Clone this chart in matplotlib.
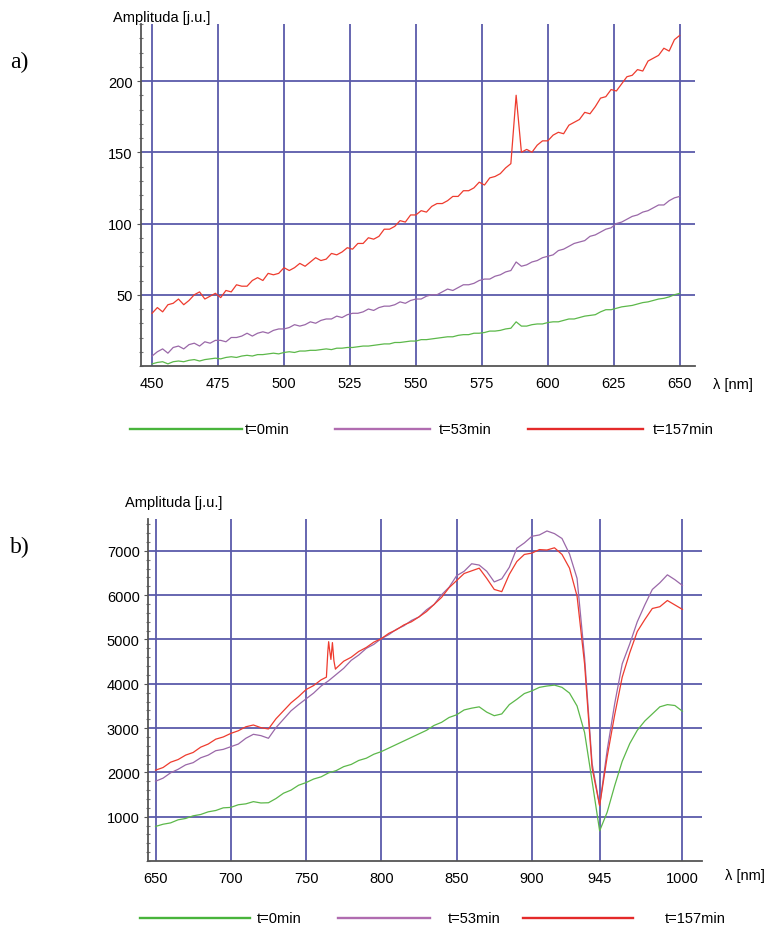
import numpy as np
import matplotlib.pyplot as plt
from matplotlib.lines import Line2D
from matplotlib.ticker import MultipleLocator

plt.rcParams['font.family'] = ['Liberation Sans', 'DejaVu Sans']

# ---- panel a: 450-650 nm, sampled every 2 nm ----
wl_a = np.arange(450, 651, 2)

red_a = [37, 41, 38, 43, 44, 47, 43, 46, 50, 52, 47, 49, 51, 48, 53, 52, 57, 56, 56, 60,
         62, 60, 65, 64, 65,
         69, 67, 69, 72, 70, 73, 76, 74, 75, 79, 78, 80, 83, 82, 86, 86, 90, 89, 91, 96,
         96, 98, 102, 101, 106,
         106, 109, 108, 112, 114, 114, 116, 119, 119, 123, 123, 125, 129, 127, 132, 133, 135, 139, 142, 190,
         150, 152, 150, 155, 158,
         158, 162, 164, 163, 169, 171, 173, 178, 177, 182, 188, 189, 194, 193, 198, 203, 204, 208, 207, 214,
         216, 218, 223, 221, 229,
         232]

purple_a = [7, 10, 12, 9, 13, 14, 12, 15, 16, 14, 17, 16, 18, 18, 17, 20, 20, 21, 23, 21,
            23, 24, 23, 25, 26,
            26, 27, 29, 28, 29, 31, 30, 32, 33, 33, 35, 34, 36, 37, 37, 38, 40, 39, 41, 42,
            42, 43, 45, 44, 46,
            47, 47, 49, 50, 50, 52, 54, 53, 55, 57, 57, 58, 60, 61, 61, 63, 64, 66, 67, 73,
            70, 71, 73, 74, 76,
            77, 78, 81, 82, 84, 86, 87, 88, 91, 92, 94, 96, 97, 100, 101, 103, 105, 106, 108, 109,
            111, 113, 113, 116, 118,
            119]

green_a = [1.5, 2.5, 3, 1.5, 3, 3.5, 3, 4, 4.5, 3.5, 4.5, 5, 5.5, 5, 6, 6.5, 6, 7, 7.5, 7,
           8, 8, 8.5, 9, 8.5,
           9.5, 10, 9.5, 10.5, 10.5, 11, 11, 11.5, 12, 11.5, 12.5, 12.5, 13, 13, 13.5, 14, 14, 14.5, 15, 15.5,
           15.5, 16.5, 16.5, 17, 17.5,
           17.5, 18.5, 18.5, 19, 19.5, 20, 20.5, 20.5, 21.5, 22, 22, 23, 23, 23.5, 24.5, 24.5, 25, 26, 26.5, 31,
           28, 28, 29, 29.5, 29.5,
           30.5, 31, 31, 32, 33, 33, 34, 35, 35.5, 36, 38, 39.5, 39.5, 40.5, 41.5, 42, 42.5, 43.5, 44.5, 45,
           46, 47, 47.5, 48.5, 50,
           51]

ticks_a = [450, 475, 500, 525, 550, 575, 600, 625, 650]
yticks_a = [50, 100, 150, 200]

# ---- panel b: 650-1000 nm, sampled every 5 nm ----
wl_b = np.arange(650, 1001, 5)

red_b = [2050, 2110, 2230, 2290, 2390, 2450, 2570, 2640, 2750, 2800,
         2880, 2940, 3030, 3070, 3010, 2980, 3210, 3390, 3570, 3710,
         3870, 3960, 4090, 4950, 4350, 4510, 4600, 4730, 4820, 4940,
         5020, 5140, 5220, 5330, 5400, 5510, 5630, 5790, 5950, 6170,
         6330, 6490, 6550, 6610, 6380, 6130, 6080, 6470, 6760, 6920,
         6950, 7030, 7020, 7070, 6920, 6610, 5980, 4450, 2100, 1250,
         2350, 3300, 4150, 4700, 5180, 5450, 5700, 5740, 5880, 5780,
         5680]

# sodium-line spike on the t=157min curve
spike_wl = [763.5, 764.5, 765.5, 766.5, 767.5, 768.5, 769.5]
spike_red = [4150, 4750, 4800, 4550, 4930, 4520, 4330]

purple_b = [1800, 1870, 1990, 2070, 2170, 2220, 2330, 2390, 2490, 2520,
            2580, 2640, 2770, 2860, 2830, 2770, 3010, 3200, 3390, 3530,
            3660, 3790, 3950, 4070, 4210, 4350, 4530, 4650, 4800, 4890,
            5020, 5110, 5230, 5310, 5430, 5510, 5670, 5790, 6010, 6180,
            6440, 6540, 6710, 6680, 6540, 6300, 6370, 6630, 7060, 7180,
            7330, 7360, 7450, 7390, 7280, 6930, 6380, 4600, 2200, 1250,
            2500, 3550, 4450, 4900, 5400, 5780, 6130, 6280, 6460, 6350,
            6220]

green_b = [780, 830, 860, 930, 960, 1020, 1050, 1110, 1140, 1200,
           1210, 1270, 1290, 1340, 1310, 1315, 1410, 1530, 1600, 1710,
           1770, 1850, 1900, 1990, 2040, 2130, 2180, 2270, 2320, 2410,
           2470, 2550, 2630, 2710, 2790, 2870, 2950, 3060, 3130, 3240,
           3300, 3410, 3450, 3480, 3360, 3280, 3320, 3530, 3650, 3780,
           3840, 3920, 3950, 3970, 3920, 3790, 3500, 2900, 1800, 680,
           1100, 1700, 2250, 2650, 2950, 3160, 3320, 3480, 3530, 3510,
           3380]

ticks_b = [650, 700, 750, 800, 850, 900, 945, 1000]
yticks_b = [1000, 2000, 3000, 4000, 5000, 6000, 7000]

labels = ['t=0min', 't=53min', 't=157min']

GRID = '#5a5aaa'
AXIS = '#555555'
C_GREEN = '#5cb84a'
C_PURPLE = '#9a68a8'
C_RED = '#ee3b2e'
L_GREEN = '#48b43c'
L_PURPLE = '#b06cb0'
L_RED = '#e42a2a'

W, H = 766, 928


def fx(px):
    return px / W


def fy(py):
    return 1 - py / H


def style_axes(ax, xticks, yticks, minor):
    ax.set_xticks(xticks)
    ax.set_yticks(yticks)
    ax.yaxis.set_minor_locator(MultipleLocator(minor))
    ax.grid(True, which='major', color=GRID, lw=1.3)
    ax.set_axisbelow(True)
    for side in ['top', 'right']:
        ax.spines[side].set_visible(False)
    for side in ['left', 'bottom']:
        ax.spines[side].set_color(AXIS)
        ax.spines[side].set_linewidth(1.3)
    ax.tick_params(axis='x', length=0, pad=7, labelsize=10.5)
    ax.tick_params(axis='y', which='major', direction='out', length=3, pad=3,
                   color=AXIS, labelsize=10.5)
    ax.tick_params(axis='y', which='minor', direction='inout', length=3,
                   width=0.8, color='#777777')


def legend_row(y, segs, text_x):
    cols = [L_GREEN, L_PURPLE, L_RED]
    for (x0, x1), tx, c, lab in zip(segs, text_x, cols, labels):
        fig.add_artist(Line2D([fx(x0), fx(x1)], [fy(y), fy(y)], color=c, lw=1.7))
        fig.text(fx(tx), fy(y), lab, ha='left', va='center', fontsize=10.5)


fig = plt.figure(figsize=(W / 100, H / 100), dpi=100)

# panel a
ax_a = fig.add_axes([fx(141), fy(367), fx(695) - fx(141), (367 - 25) / H])
ax_a.plot(wl_a, green_a, color=C_GREEN, lw=0.9)
ax_a.plot(wl_a, purple_a, color=C_PURPLE, lw=0.9)
ax_a.plot(wl_a, red_a, color=C_RED, lw=0.9)
ax_a.set_xlim(445.8, 655.8)
ax_a.set_ylim(0, 240)
style_axes(ax_a, ticks_a, yticks_a, 10)

# panel b
red_wl = np.concatenate([wl_b, spike_wl])
red_amp = np.concatenate([red_b, spike_red])
order = np.argsort(red_wl)

ax_b = fig.add_axes([fx(148), fy(862), fx(702) - fx(148), (862 - 520) / H])
ax_b.plot(wl_b, green_b, color=C_GREEN, lw=0.9)
ax_b.plot(wl_b, purple_b, color=C_PURPLE, lw=0.9)
ax_b.plot(red_wl[order], red_amp[order], color=C_RED, lw=0.9)
ax_b.set_xlim(645, 1013)
ax_b.set_ylim(0, 7720)
style_axes(ax_b, ticks_b, yticks_b, 200)

# axis titles
fig.text(fx(113), fy(18), 'Amplituda [j.u.]', ha='left', va='center', fontsize=10.5)
fig.text(fx(713), fy(385), 'λ [nm]', ha='left', va='center', fontsize=10.5)
fig.text(fx(125), fy(503), 'Amplituda [j.u.]', ha='left', va='center', fontsize=10.5)
fig.text(fx(725), fy(876), 'λ [nm]', ha='left', va='center', fontsize=10.5)

# panel letters
fig.text(fx(10), fy(62), 'a)', family='Liberation Serif', fontsize=17, va='center')
fig.text(fx(10), fy(547), 'b)', family='Liberation Serif', fontsize=17, va='center')

# legends under each panel
legend_row(430, [(130, 242), (335, 430), (528, 643)], [245, 439, 653])
legend_row(919, [(140, 250), (338, 430), (523, 633)], [257, 448, 665])

fig.savefig('out.png', dpi=100)
